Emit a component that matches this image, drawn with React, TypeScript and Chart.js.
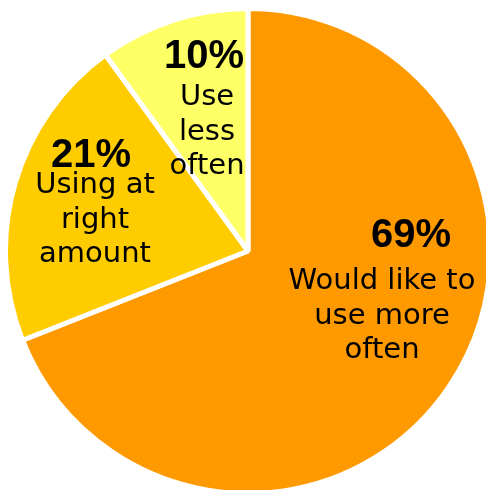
import React, { useEffect, useRef } from "react";
import { Chart, registerables } from "chart.js";

Chart.register(...registerables);

const categories = ["Would like to use more often", "Using at right amount", "Use less often"];
const values = [69, 21, 10];
const pctLabels = ["69%", "21%", "10%"];
const textLines = [
  ["Would like to", "use more", "often"],
  ["Using at", "right", "amount"],
  ["Use", "less", "often"],
];
const colors = ["#FF9900", "#FFCC00", "#FFFF66"];

// label placement relative to pie centre, in pixels at radius 240 (scaled)
const pctPos = [
  [163, -4],
  [-157, -84],
  [-44, -183],
];
const textPos = [
  [134, 38],
  [-153, -58],
  [-41, -146],
];
const LINE_H = 34.5;

const labelPlugin = {
  id: "sliceLabels",
  afterDatasetsDraw(chart: any) {
    const ctx = chart.ctx;
    const meta = chart.getDatasetMeta(0);
    meta.data.forEach((arc: any, i: number) => {
      const p = arc.getProps(["x", "y", "outerRadius"], true);
      const s = (p.outerRadius - 2.5) / 240;
      ctx.save();
      ctx.fillStyle = "#000";
      ctx.textAlign = "center";
      ctx.textBaseline = "alphabetic";
      ctx.font = "bold 40px 'Liberation Sans', Arial, sans-serif";
      ctx.fillText(pctLabels[i], p.x + pctPos[i][0] * s, p.y + pctPos[i][1] * s);
      ctx.font = "29px 'DejaVu Sans', Verdana, sans-serif";
      textLines[i].forEach((line, j) => {
        ctx.fillText(line, p.x + textPos[i][0] * s, p.y + (textPos[i][1] + j * LINE_H) * s);
      });
      ctx.restore();
    });
  },
};

export default function App() {
  const ref = useRef<HTMLCanvasElement>(null);
  useEffect(() => {
    if (!ref.current) return;
    const chart = new Chart(ref.current, {
      type: "pie",
      data: {
        labels: categories,
        datasets: [
          {
            data: values,
            backgroundColor: colors,
            borderColor: "#FFFFFF",
            borderWidth: 5,
          },
        ],
      },
      options: {
        responsive: false,
        animation: false,
        layout: { padding: 0 },
        plugins: {
          legend: { display: false },
          tooltip: { enabled: false },
          title: { display: false },
        },
      },
      plugins: [labelPlugin],
    });
    return () => chart.destroy();
  }, []);
  return (
    <div
      style={{
        position: "absolute",
        left: 0,
        top: 0,
        width: 486,
        height: 490,
        overflow: "hidden",
        background: "#fff",
      }}
    >
      <canvas
        ref={ref}
        width={490}
        height={490}
        style={{ position: "absolute", left: 3, top: 6, width: 490, height: 490 }}
      />
    </div>
  );
}
